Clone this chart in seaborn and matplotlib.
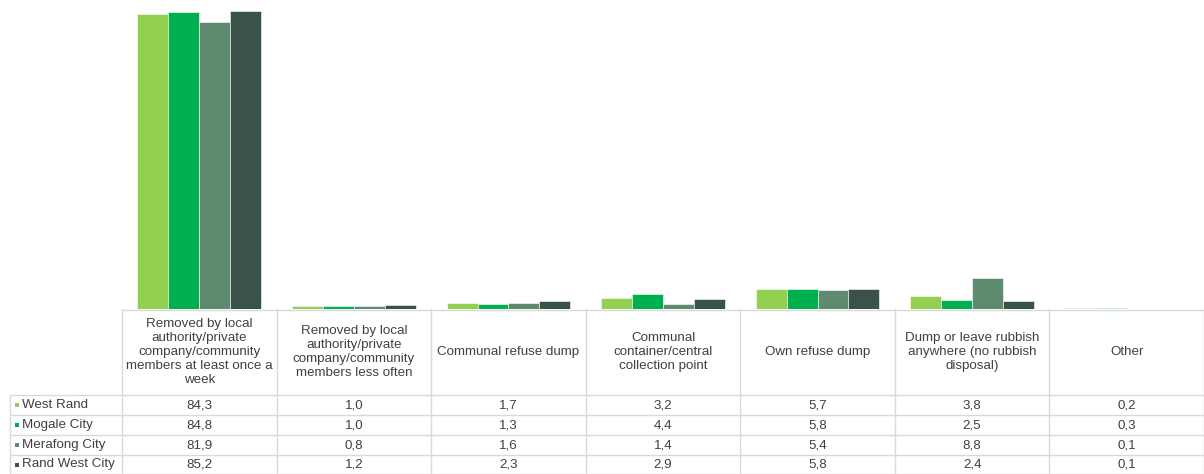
import matplotlib
matplotlib.use("Agg")
import matplotlib.pyplot as plt
import pandas as pd
import seaborn as sns

# Data
categories = [
    "Removed by local\nauthority/private\ncompany/community\nmembers at least once a\nweek",
    "Removed by local\nauthority/private\ncompany/community\nmembers less often",
    "Communal refuse dump",
    "Communal\ncontainer/central\ncollection point",
    "Own refuse dump",
    "Dump or leave rubbish\nanywhere (no rubbish\ndisposal)",
    "Other",
]
series = ["West Rand", "Mogale City", "Merafong City", "Rand West City"]
west_rand = [84.3, 1.0, 1.7, 3.2, 5.7, 3.8, 0.2]
mogale_city = [84.8, 1.0, 1.3, 4.4, 5.8, 2.5, 0.3]
merafong_city = [81.9, 0.8, 1.6, 1.4, 5.4, 8.8, 0.1]
rand_west_city = [85.2, 1.2, 2.3, 2.9, 5.8, 2.4, 0.1]
colors = ["#92D050", "#00B050", "#5E8A70", "#3A5247"]

values = [west_rand, mogale_city, merafong_city, rand_west_city]
rows = []
for name, vals in zip(series, values):
    for i, v in enumerate(vals):
        rows.append({"cat": i, "series": name, "value": v})
df = pd.DataFrame(rows)

sns.set_theme(style="white")
plt.rcParams["font.family"] = ["Liberation Sans", "DejaVu Sans"]

W, H = 1204, 474
fig = plt.figure(figsize=(W / 100, H / 100), dpi=100)

# pixel layout
left_px, base_px = 122, 309
ax = fig.add_axes([left_px / W, (H - base_px) / H, (W - left_px) / W, base_px / H])
sns.barplot(data=df, x="cat", y="value", hue="series", hue_order=series,
            palette=colors, saturation=1, width=0.8, gap=0,
            edgecolor="white", linewidth=0.4, ax=ax, legend=False)
ax.set_xlim(-0.5, len(categories) - 0.5)
ax.set_ylim(0, 88.3)
ax.set_axis_off()

# data table below the plot, drawn in pixel coordinates
tab = fig.add_axes([0, 0, 1, (H - base_px) / H])
tab.set_xlim(0, W)
tab.set_ylim(H, base_px)
tab.set_axis_off()

line_c = "#D9D9D9"
text_c = "#404040"
fs = 9.6
col_w = (W - left_px) / len(categories)
col_edges = [left_px + k * col_w for k in range(len(categories) + 1)]
row_edges = [395, 415, 435, 455, 474]

tab.plot([left_px, W], [base_px + 0.5, base_px + 0.5], color=line_c, lw=1)
for x in col_edges:
    tab.plot([x, x], [base_px, H], color=line_c, lw=1)
tab.plot([10, 10], [row_edges[0], H], color=line_c, lw=1)
for y in row_edges:
    tab.plot([10, W], [y, y], color=line_c, lw=1)

for i, cat in enumerate(categories):
    cx = left_px + (i + 0.5) * col_w
    tab.text(cx, (base_px + row_edges[0]) / 2, cat, ha="center", va="center",
             fontsize=fs, color=text_c, linespacing=1.2)

for r, (name, vals, c) in enumerate(zip(series, values, colors)):
    cy = (row_edges[r] + row_edges[r + 1]) / 2
    tab.scatter([17], [cy], marker="s", s=12, color=c, linewidths=0)
    tab.text(22, cy, name, ha="left", va="center", fontsize=fs, color=text_c)
    for i, v in enumerate(vals):
        cx = left_px + (i + 0.5) * col_w
        tab.text(cx, cy, f"{v:.1f}".replace(".", ","), ha="center", va="center",
                 fontsize=fs, color=text_c)

fig.savefig("out.png", dpi=100)
